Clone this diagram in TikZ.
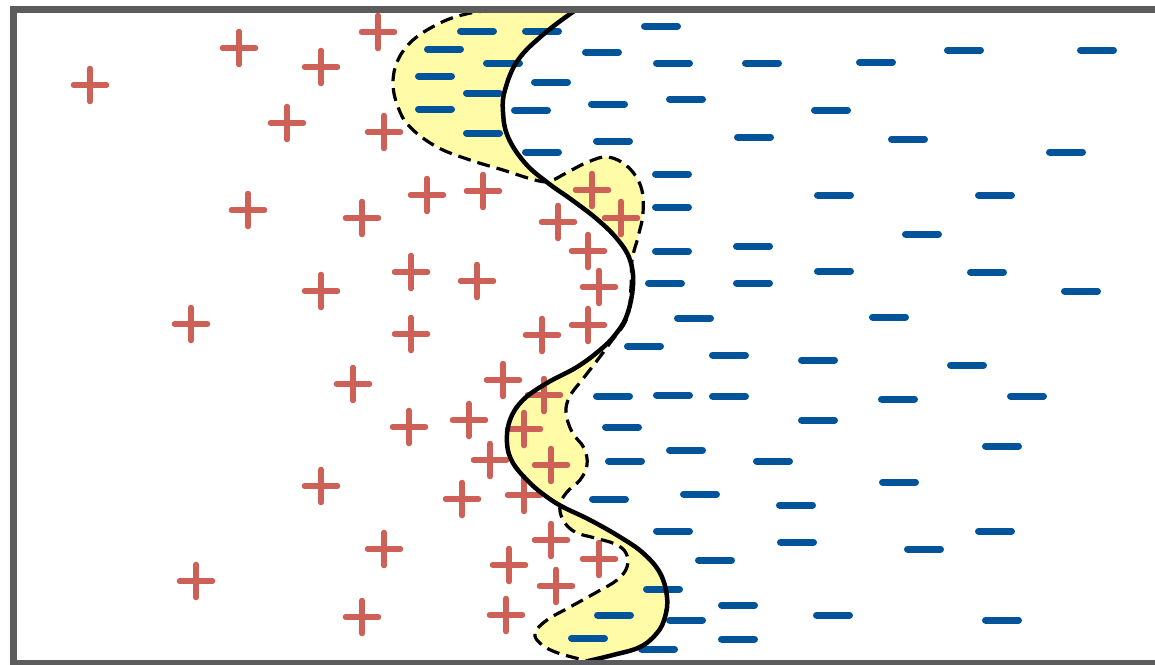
\documentclass[tikz,border=0pt]{standalone}
\usepackage{tikz}
\definecolor{PosRed}{HTML}{CD6157}
\definecolor{NegBlue}{HTML}{02549A}
\definecolor{SoftYellow}{HTML}{FFFBA6}
\definecolor{FrameGray}{HTML}{5C5C5C}

\begin{document}
\begin{tikzpicture}[x=1pt,y=-1pt,
  posmark/.style={PosRed,line width=5.5pt,line cap=round},
  negmark/.style={NegBlue,line width=7pt,line cap=round},
  bound/.style={black,line width=4.5pt,line join=round},
  margin/.style={black,line width=3.2pt,dash pattern=on 13pt off 7pt},
  smoothed/.style={smooth,tension=0.65}
]
  \useasboundingbox (0,0) rectangle (1155,664);

  % region between the two curves
  \fill[SoftYellow,even odd rule]
    plot[smoothed] coordinates {(492,10) (466,14) (440,23) (413,40) (398,60) (393,83)
      (398,107) (410,127) (437,147) (470,160) (503,170) (535,180) (550,181)
      (568,172) (588,162) (608,157) (628,167) (641,187) (643,213) (638,237)
      (632,260) (631,287) (627,318) (610,343) (596,362) (582,380) (570,396)
      (566,412) (572,432) (584,448) (587,465) (580,480) (567,492) (560,505)
      (563,520) (575,532) (595,538) (615,544) (626,553) (627,567) (617,580)
      (597,592) (570,607) (547,620) (535,633) (541,644) (558,653) (588,661)}
    -- plot[smoothed] coordinates {(588,661) (613,655) (640,647) (657,633) (665,617)
      (667,597) (660,573) (643,553) (620,537) (590,520) (563,507) (547,497)
      (530,483) (513,463) (507,443) (510,420) (523,400) (547,383) (577,367)
      (600,350) (615,335) (627,315) (633,285) (630,260) (618,240) (598,220)
      (572,200) (548,183) (525,163) (508,137) (503,112) (505,90) (518,60)
      (545,33) (577,9)}
    -- cycle;

  % positive samples
  \foreach \x/\y in {90/85,239/48,321/67,378/32,287/123,384/132,248/210,362/218,
      427/195,483/191,592/190,558/222,621/218,588/251,599/287,411/272,477/281,
      321/291,191/324,411/334,542/335,588/325,353/384,503/380,544/395,469/420,
      409/427,524/429,490/460,551/465,321/486,462/499,524/495,384/549,551/540,
      599/559,509/565,196/581,556/586,362/617,506/615}
    \draw[posmark] (\x-16.5,\y) -- (\x+16.5,\y) (\x,\y-16.5) -- (\x,\y+16.5);

  % negative samples
  \foreach \x/\y in {477/31,542/31,661/26,444/49,503/63,602/52,673/63,435/76,
      551/82,483/93,435/109,531/110,608/104,686/99,483/133,542/152,613/141,
      672/174,672/207,672/251,665/283,694/318,753/246,753/283,762/63,754/137,
      876/62,964/50,1097/50,831/110,908/139,1066/152,834/195,995/195,922/234,
      834/271,987/272,1081/291,889/317,644/346,729/355,613/396,673/395,729/396,
      622/427,686/450,625/461,609/499,700/494,673/531,715/560,663/589,738/605,
      614/615,686/620,588/638,738/639,658/649,818/360,967/365,898/399,1027/396,
      818/420,1002/446,773/461,899/482,796/505,797/542,924/549,995/531,833/615,
      1002/620}
    \draw[negmark] (\x-16.5,\y) -- (\x+16.5,\y);

  % dashed margin curve
  \draw[margin] plot[smoothed] coordinates {(492,10) (466,14) (440,23) (413,40)
      (398,60) (393,83) (398,107) (410,127) (437,147) (470,160) (503,170)
      (535,180) (550,181) (568,172) (588,162) (608,157) (628,167) (641,187)
      (643,213) (638,237) (632,260) (631,287) (627,318) (610,343) (596,362)
      (582,380) (570,396) (566,412) (572,432) (584,448) (587,465) (580,480)
      (567,492) (560,505) (563,520) (575,532) (595,538) (615,544) (626,553)
      (627,567) (617,580) (597,592) (570,607) (547,620) (535,633) (541,644)
      (558,653) (588,661)};

  % decision boundary
  \draw[bound] plot[smoothed] coordinates {(577,9) (545,33) (518,60) (505,90)
      (503,112) (508,137) (525,163) (548,183) (572,200) (598,220) (618,240)
      (630,260) (633,285) (627,315) (615,335) (600,350) (577,367) (547,383)
      (523,400) (510,420) (507,443) (513,463) (530,483) (547,497) (563,507)
      (590,520) (620,537) (643,553) (660,573) (667,597) (665,617) (657,633)
      (640,647) (613,655) (588,661)};

  % frame
  \draw[FrameGray,line width=6.5pt] (1170,663) -- (13.5,663) -- (13.5,9.5) -- (1170,9.5);
\end{tikzpicture}
\end{document}
